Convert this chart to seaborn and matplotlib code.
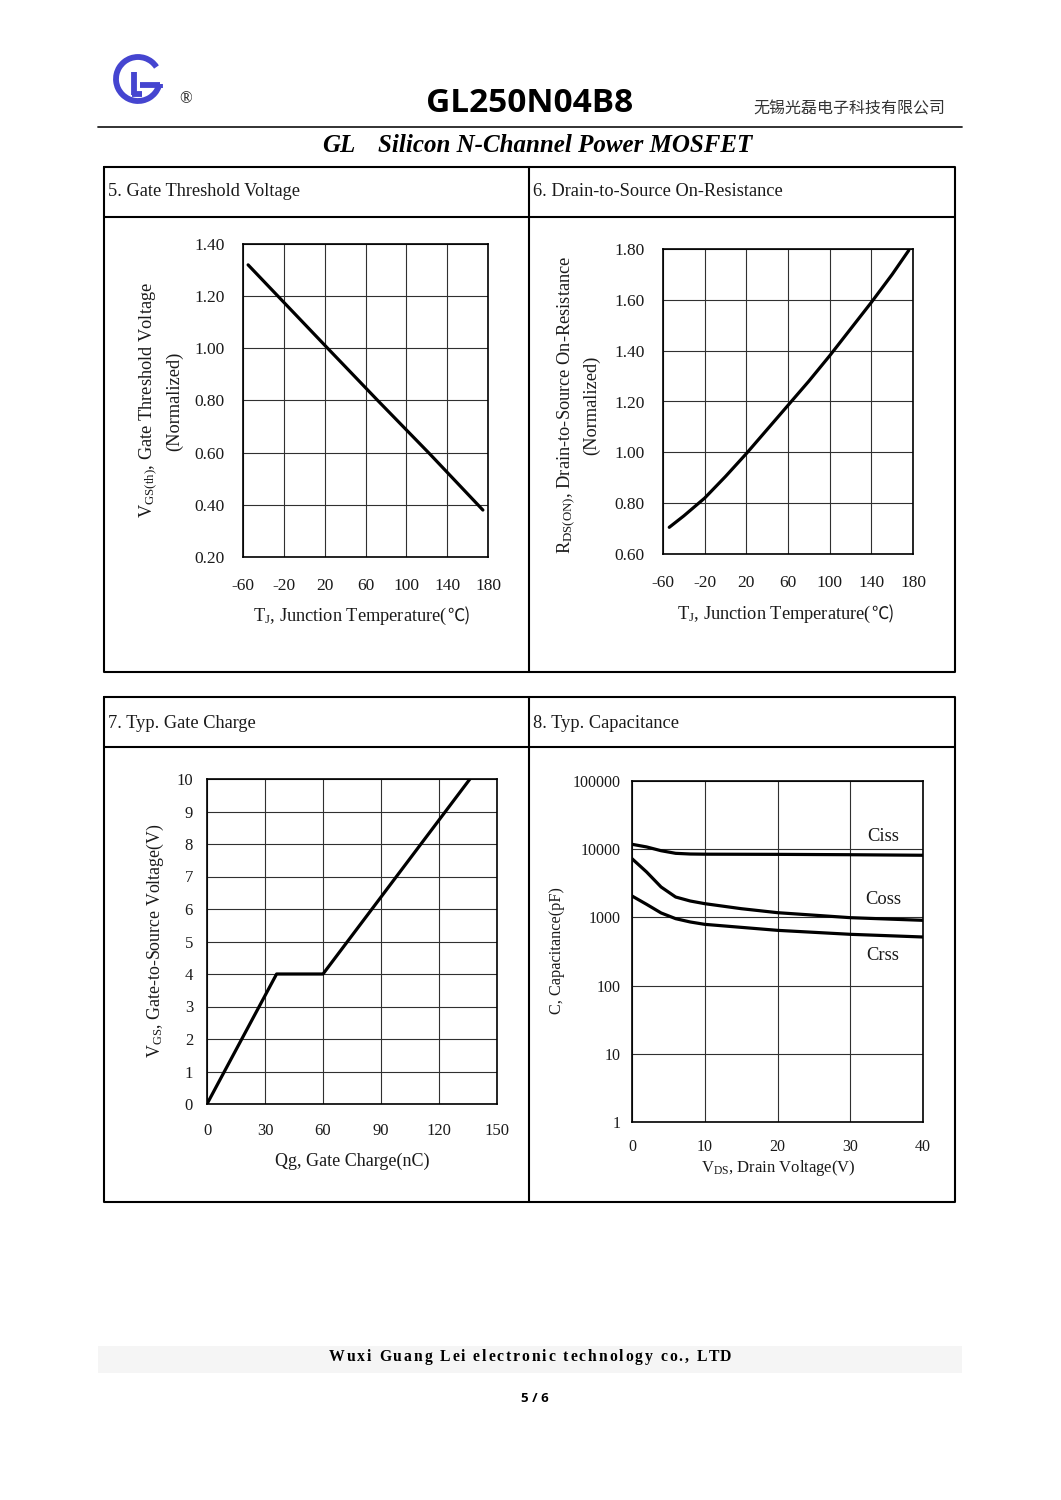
import numpy as np
import pandas as pd
import matplotlib
matplotlib.use("Agg")
import matplotlib.pyplot as plt
import seaborn as sns
from matplotlib.patches import Arc, Rectangle
from matplotlib.font_manager import FontProperties

# ----------------------------- data ----------------------------- #
tj_ticks = [-60, -20, 20, 60, 100, 140, 180]

# 5. gate threshold voltage (normalized) vs Tj
vth_tj = [-55, 23, 72, 123, 175]
vth_norm = [1.32, 1.00, 0.80, 0.595, 0.38]
vth_ticks = [0.20, 0.40, 0.60, 0.80, 1.00, 1.20, 1.40]

# 6. on-resistance (normalized) vs Tj
rds_tj = [-54, -40, -20, 0, 20, 40, 60, 80, 100, 120, 140, 160, 176]
rds_norm = [0.705, 0.75, 0.82, 0.905, 0.995, 1.09, 1.185, 1.28, 1.38, 1.485, 1.59, 1.70, 1.795]
rds_ticks = [0.60, 0.80, 1.00, 1.20, 1.40, 1.60, 1.80]

# 7. gate charge
qg = [0, 36, 60, 136]
vgs = [0, 4, 4, 10]
qg_ticks = [0, 30, 60, 90, 120, 150]
vgs_ticks = list(range(0, 11))

# 8. capacitance vs Vds
vds_ticks = [0, 10, 20, 30, 40]
cap_ticks = [1, 10, 100, 1000, 10000, 100000]
ciss_v = [0, 2, 4, 6, 8, 10, 20, 30, 40]
ciss = [11800, 10800, 9500, 8700, 8500, 8450, 8400, 8300, 8150]
coss_v = [0, 2, 4, 6, 8, 10, 15, 20, 30, 40]
coss = [7260, 4640, 2790, 1990, 1740, 1590, 1343, 1173, 991, 906]
crss_v = [0, 2, 4, 6, 8, 10, 20, 30, 40]
crss = [2060, 1556, 1162, 958, 857, 791, 646, 565, 516]

# ----------------------------- setup ----------------------------- #
sns.set_theme(style="white")
plt.rcParams['font.family'] = ['Liberation Serif', 'Noto Sans CJK SC', 'DejaVu Sans']
plt.rcParams['axes.unicode_minus'] = False
plt.rcParams['mathtext.fontset'] = 'custom'
plt.rcParams['mathtext.rm'] = 'Liberation Serif'
plt.rcParams['mathtext.it'] = 'Liberation Serif:italic'
plt.rcParams['mathtext.bf'] = 'Liberation Serif:bold'

W, H = 1061, 1500
fig = plt.figure(figsize=(W / 100, H / 100), dpi=100)
TXT = '#1a1a1a'


def px_axes(x0, y0, x1, y1):
    return fig.add_axes([x0 / W, 1 - y1 / H, (x1 - x0) / W, (y1 - y0) / H])


def style_axes(ax, tick_size, xpad, ypad):
    ax.grid(True, color='#303030', linewidth=0.8)
    for s in ax.spines.values():
        s.set_color('black')
        s.set_linewidth(1.2)
    ax.tick_params(length=0, labelsize=tick_size, colors=TXT)
    ax.tick_params(axis='x', pad=xpad)
    ax.tick_params(axis='y', pad=ypad)
    ax.set_xlabel('')
    ax.set_ylabel('')


LW = 2.3

# 5. Gate threshold voltage
ax5 = px_axes(243, 244, 488, 557)
sns.lineplot(x=vth_tj, y=vth_norm, ax=ax5, color='black', linewidth=LW)
ax5.set_xlim(-60, 180)
ax5.set_xticks(tj_ticks)
ax5.set_ylim(0.2, 1.4)
ax5.set_yticks(vth_ticks)
ax5.set_yticklabels([f'{v:.2f}' for v in vth_ticks])
style_axes(ax5, 12.5, 15, 13)

# 6. On-resistance
ax6 = px_axes(663, 249, 913, 554)
sns.lineplot(x=rds_tj, y=rds_norm, ax=ax6, color='black', linewidth=LW)
ax6.set_xlim(-60, 180)
ax6.set_xticks(tj_ticks)
ax6.set_ylim(0.6, 1.8)
ax6.set_yticks(rds_ticks)
ax6.set_yticklabels([f'{v:.2f}' for v in rds_ticks])
style_axes(ax6, 12.5, 15, 13)

# 7. Gate charge
ax7 = px_axes(207, 779, 497, 1104)
sns.lineplot(x=qg, y=vgs, ax=ax7, color='black', linewidth=LW)
ax7.set_xlim(0, 150)
ax7.set_xticks(qg_ticks)
ax7.set_ylim(0, 10)
ax7.set_yticks(vgs_ticks)
style_axes(ax7, 12, 14, 10)

# 8. Capacitance
ax8 = px_axes(632, 781, 923, 1122)
for vv, cc in [(ciss_v, ciss), (coss_v, coss), (crss_v, crss)]:
    sns.lineplot(x=vv, y=cc, ax=ax8, color='black', linewidth=LW)
ax8.set_yscale('log')
ax8.set_xlim(0, 40)
ax8.set_xticks(vds_ticks)
ax8.set_ylim(1, 100000)
ax8.set_yticks(cap_ticks)
ax8.set_yticklabels([str(c) for c in cap_ticks])
ax8.yaxis.set_minor_locator(matplotlib.ticker.NullLocator())
style_axes(ax8, 11.5, 12, 8)
ax8.text(34.5, 15500, 'Ciss', fontsize=13.3, color=TXT, ha='center', va='center')
ax8.text(34.5, 1845, 'Coss', fontsize=13.3, color=TXT, ha='center', va='center')
ax8.text(34.5, 278, 'Crss', fontsize=13.3, color=TXT, ha='center', va='center')

# ----------------------------- page overlay (pixel coords) ----------------------------- #
ov = fig.add_axes([0, 0, 1, 1])
ov.set_xlim(0, W)
ov.set_ylim(H, 0)
ov.axis('off')

# logo
blue = '#4545d0'
ov.add_patch(Arc((138, 79), 44, 44, theta1=20, theta2=327, color=blue, lw=4.2))
ov.plot([140, 160], [85, 85], color=blue, lw=4.2, solid_capstyle='butt')
ov.plot([160, 160], [83.5, 88], color=blue, lw=4.2, solid_capstyle='butt')
ov.plot([133.5, 133.5], [72, 95], color=blue, lw=4.2, solid_capstyle='butt')
ov.plot([131.5, 142], [93.5, 93.5], color=blue, lw=4.2, solid_capstyle='butt')
ov.text(186, 99, '®', fontsize=12, ha='center', va='center', color=TXT)

ov.text(530, 104, 'GL250N04B8', fontsize=24, fontweight='bold', family='Open Sans',
        ha='center', va='center', color='black')
ov.text(945, 109, '无锡光磊电子科技有限公司', fontsize=11.5, family=['Noto Sans CJK SC'],
        ha='right', va='center', color='#333333')
ov.plot([98, 962], [127, 127], color='#222222', lw=1.3)
ov.text(322, 145, 'GL', fontsize=18, fontweight='bold', style='italic',
        ha='left', va='center', color='black')
ov.text(378, 145, 'Silicon N-Channel Power MOSFET', fontsize=18, fontweight='bold',
        style='italic', ha='left', va='center', color='black')

# panel boxes
for top, bot in [(167, 672), (697, 1202)]:
    ov.plot([104, 955, 955, 104, 104], [top, top, bot, bot, top], color='black', lw=1.5)
    ov.plot([104, 955], [top + 50, top + 50], color='black', lw=1.5)
    ov.plot([529, 529], [top, bot], color='black', lw=1.5)

hdr = dict(fontsize=13.2, ha='left', va='center', color=TXT)
ov.text(108, 192, '5. Gate Threshold Voltage', **hdr)
ov.text(533, 192, '6. Drain-to-Source On-Resistance', **hdr)
ov.text(108, 723, '7. Typ. Gate Charge', **hdr)
ov.text(533, 723, '8. Typ. Capacitance', **hdr)

# axis titles
lab = dict(fontsize=13.2, color=TXT, va='center')
cjk = dict(family=['Noto Sans CJK SC'], fontsize=12.5, color=TXT, va='center', ha='left')
ov.text(447, 616, r'T$_\mathrm{J}$, Junction Temperature(', ha='right', **lab)
ov.text(447, 616, '℃)', **cjk)
ov.text(871, 614, r'T$_\mathrm{J}$, Junction Temperature(', ha='right', **lab)
ov.text(871, 614, '℃)', **cjk)
ov.text(352, 1161, 'Qg, Gate Charge(nC)', ha='center', fontsize=13, color=TXT, va='center')
ov.text(778, 1168, r'V$_\mathrm{DS}$, Drain Voltage(V)', ha='center', fontsize=12,
        color=TXT, va='center')

rot = dict(rotation=90, ha='center', va='center', color=TXT, fontsize=13.2)
ov.text(148, 400, r'V$_\mathrm{GS(th)}$, Gate Threshold Voltage', **rot)
ov.text(175, 401, '(Normalized)', **rot)
ov.text(566, 405, r'R$_\mathrm{DS(ON)}$, Drain-to-Source On-Resistance', **rot)
ov.text(592, 405, '(Normalized)', **rot)
ov.text(155, 941, r'V$_\mathrm{GS}$, Gate-to-Source Voltage(V)', rotation=90, ha='center',
        va='center', color=TXT, fontsize=12.9)
ov.text(557, 951, 'C, Capacitance(pF)', rotation=90, ha='center', va='center', color=TXT,
        fontsize=11.7)

# footer: letter-spaced company line
ov.add_patch(Rectangle((98, 1346), 864, 27, color='#f5f5f5', lw=0))
footer = 'Wuxi Guang Lei electronic technology co., LTD'
fp = FontProperties(family='Liberation Serif', weight='bold', size=11.3)
renderer = fig.canvas.get_renderer()


def text_w(s):
    return renderer.get_text_width_height_descent(s, fp, ismath=False)[0]


base_w = text_w(footer)
track = max((402 - base_w) / (len(footer) - 1), 0)
x0 = 530 - (base_w + track * (len(footer) - 1)) / 2
ref_w = text_w('x')
for i, ch in enumerate(footer):
    if ch == ' ':
        continue
    xi = x0 + (text_w(footer[:i] + 'x') - ref_w) + i * track
    ov.text(xi, 1357, ch, fontproperties=fp, ha='left', va='center', color='black')

ov.text(535, 1398, '5 / 6', fontsize=9.5, fontweight='bold', family='Open Sans',
        ha='center', va='center', color='black')

fig.savefig('out.png', dpi=100, facecolor='white')
